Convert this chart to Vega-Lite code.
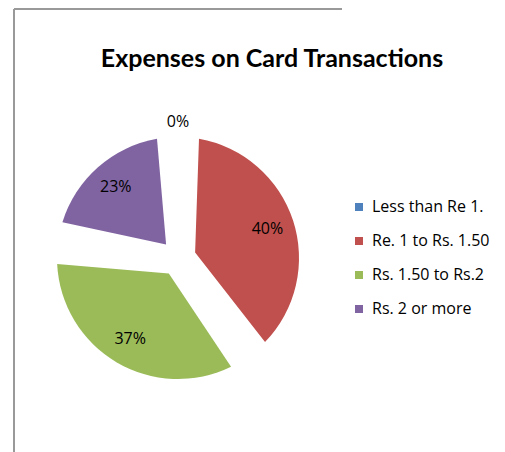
{
  "$schema": "https://vega.github.io/schema/vega-lite/v6.json",
  "width": 328,
  "height": 498,
  "autosize": {"type": "none"},
  "padding": {"left": 14, "top": 9, "right": 163, "bottom": 0},
  "background": "white",
  "view": {"stroke": "#999999", "strokeWidth": 2, "strokeDash": [328, 826, 498, 0]},
  "title": {
    "text": "Expenses on Card Transactions",
    "font": "Lato",
    "fontSize": 25,
    "fontWeight": "bold",
    "color": "black",
    "anchor": "middle",
    "dx": 94,
    "orient": "top",
    "offset": -83,
    "baseline": "alphabetic"
  },
  "data": {
    "values": [
      {"category": "Less than Re 1.", "value": 0, "label": "0%"},
      {"category": "Re. 1 to Rs. 1.50", "value": 40, "label": "40%"},
      {"category": "Rs. 1.50 to Rs.2", "value": 37, "label": "37%"},
      {"category": "Rs. 2 or more", "value": 23, "label": "23%"}
    ]
  },
  "encoding": {
    "theta": {"field": "value", "type": "quantitative", "stack": true},
    "order": {"field": "category", "type": "nominal", "sort": "ascending"}
  },
  "layer": [
    {
      "mark": {"type": "arc", "outerRadius": 121, "innerRadius": 18, "padAngle": 0.345},
      "encoding": {
        "color": {
          "field": "category",
          "type": "nominal",
          "scale": {
            "domain": ["Less than Re 1.", "Re. 1 to Rs. 1.50", "Rs. 1.50 to Rs.2", "Rs. 2 or more"],
            "range": ["#4F81BD", "#C0504D", "#9BBB59", "#8064A2"]
          },
          "legend": {
            "orient": "none",
            "legendX": 337,
            "legendY": 190,
            "title": null,
            "symbolType": "square",
            "symbolSize": 64,
            "symbolStrokeWidth": 0,
            "labelFont": "Open Sans",
            "labelFontSize": 16,
            "labelColor": "black",
            "labelOffset": 5,
            "rowPadding": 18
          }
        }
      }
    },
    {
      "mark": {"type": "text", "radius": 94, "font": "Open Sans", "fontSize": 16, "color": "black"},
      "encoding": {
        "text": {"condition": {"test": "datum.value == 0", "value": ""}, "field": "label", "type": "nominal"}
      }
    },
    {
      "mark": {"type": "text", "radius": 136, "font": "Open Sans", "fontSize": 16, "color": "black"},
      "encoding": {
        "text": {"condition": {"test": "datum.value != 0", "value": ""}, "field": "label", "type": "nominal"}
      }
    }
  ]
}
